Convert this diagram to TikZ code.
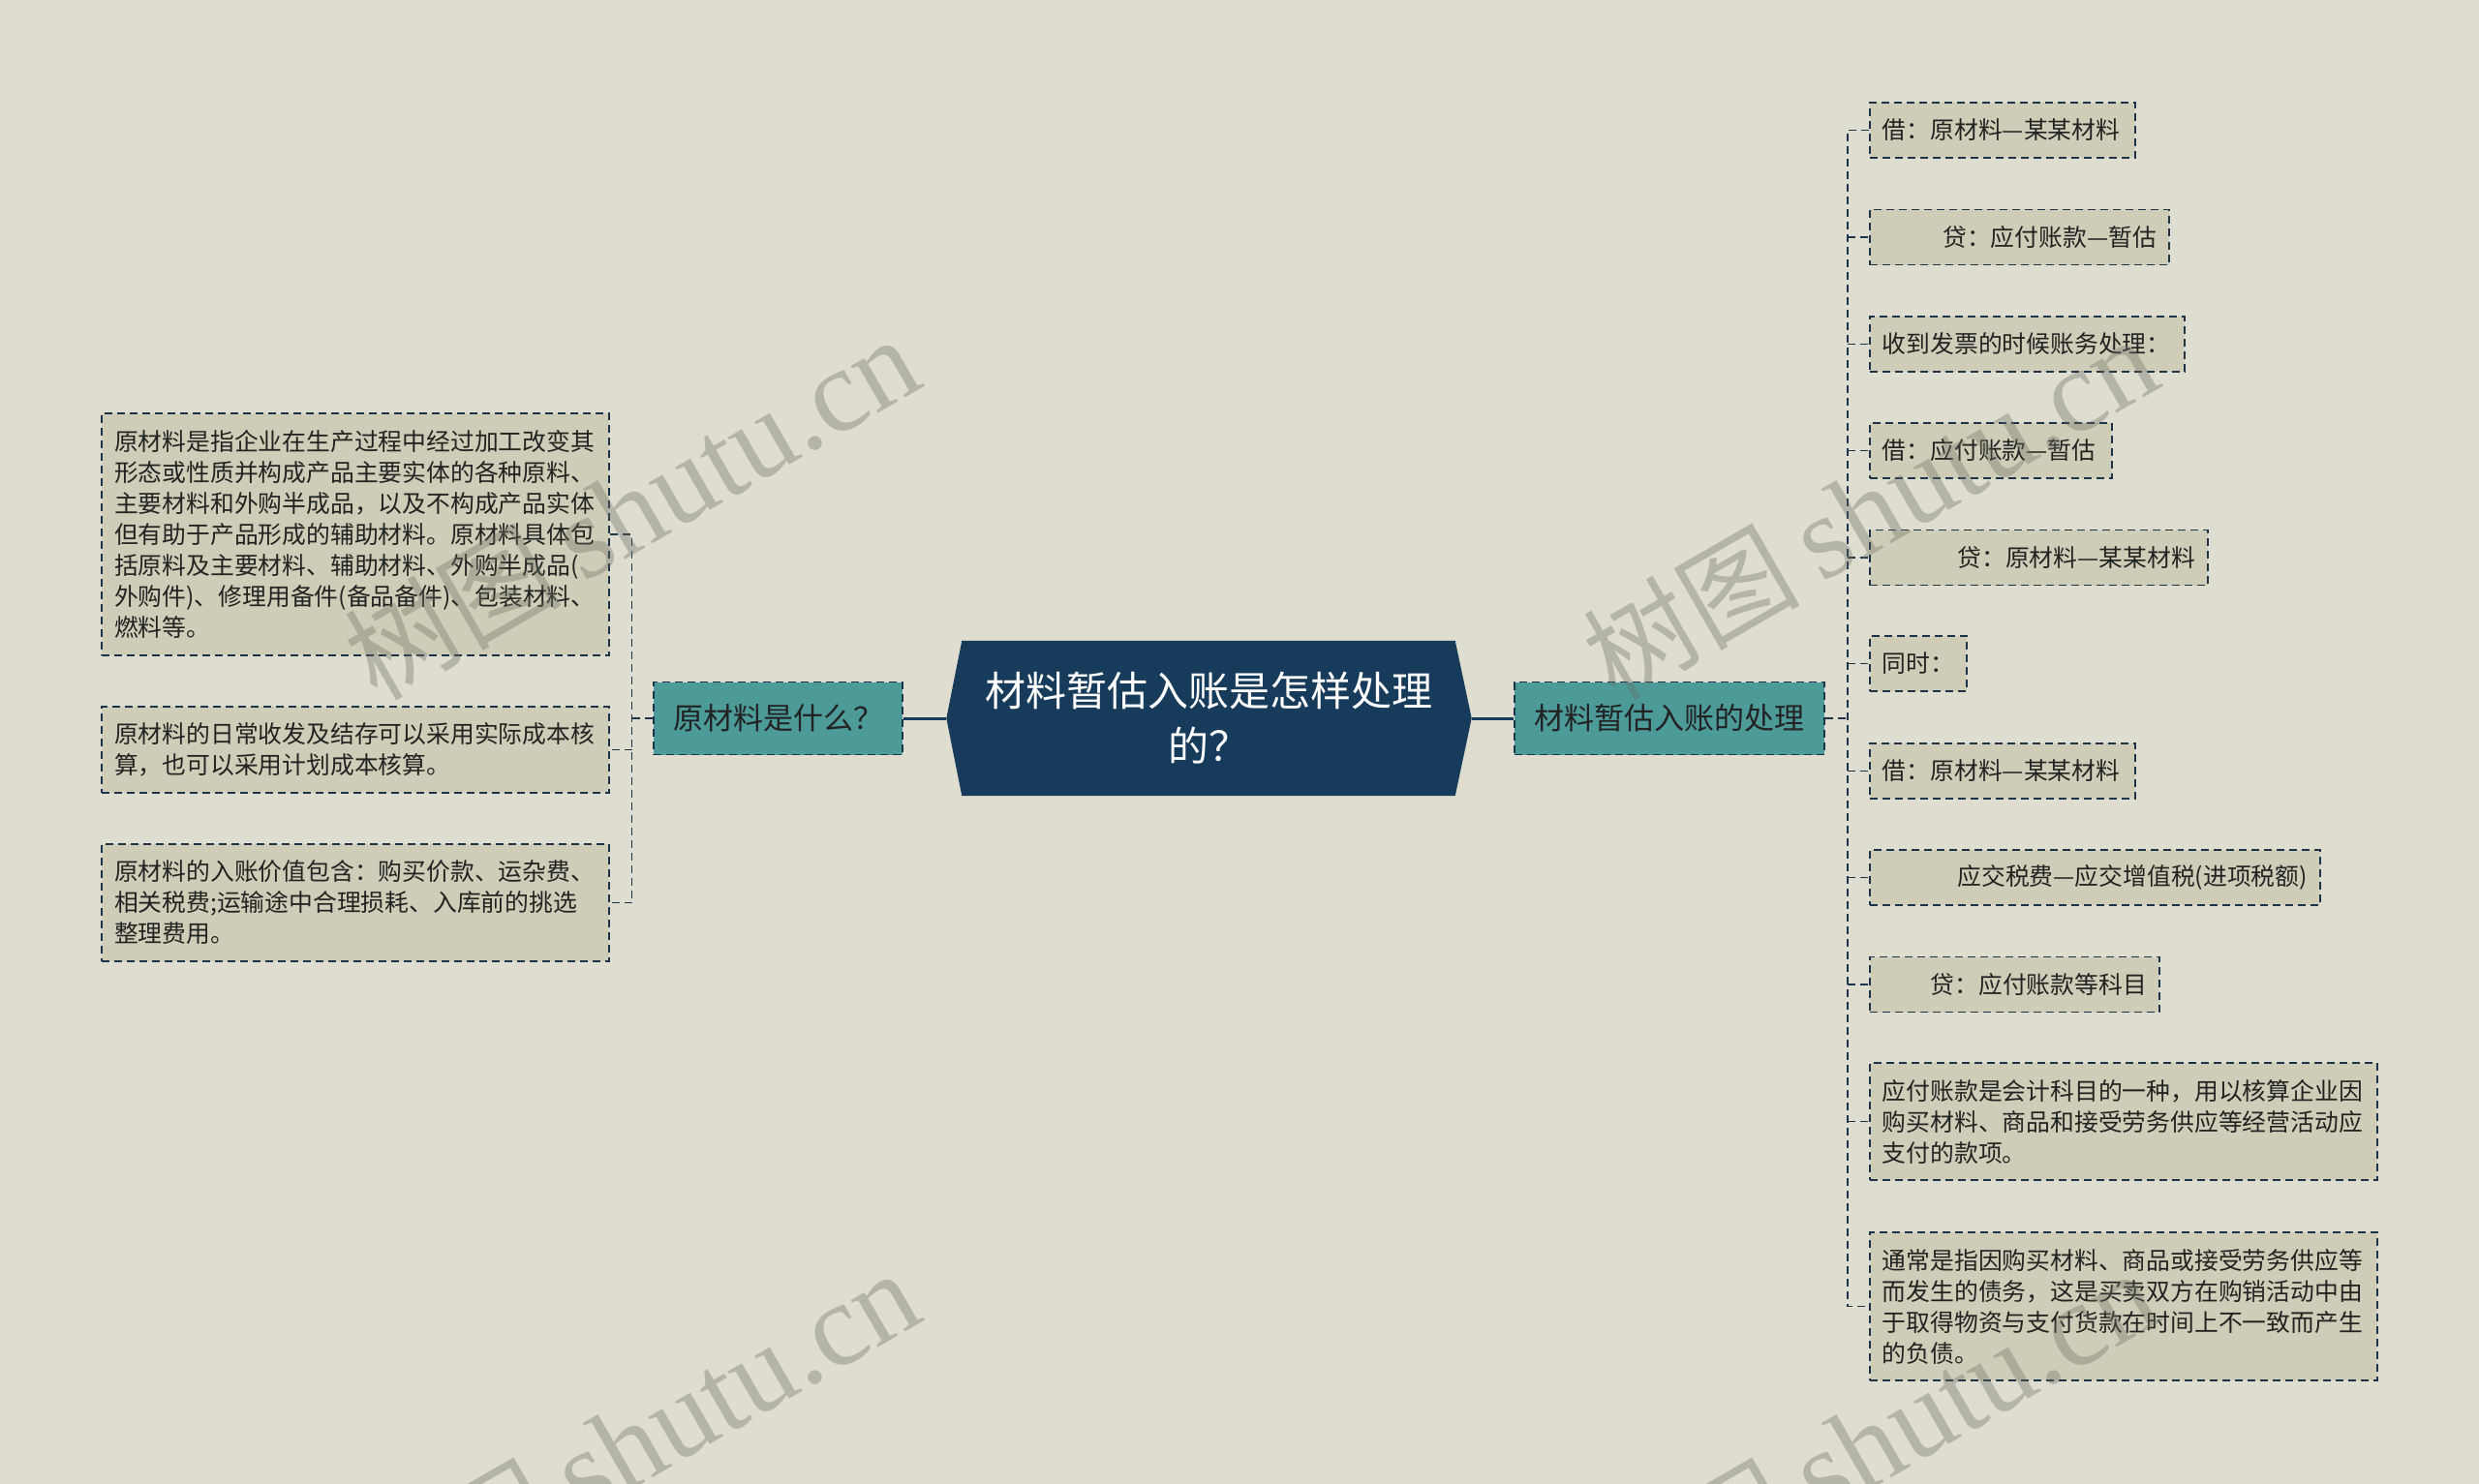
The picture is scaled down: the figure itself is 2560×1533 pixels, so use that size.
\documentclass[tikz,border=0pt]{standalone}
\usepackage{fontspec}
\setmainfont{Noto Sans CJK SC}
\newfontfamily\wmlatin{Liberation Serif}
\newfontfamily\wmcjk{Noto Sans CJK SC}
\definecolor{bgcol}{RGB}{222,221,207}
\definecolor{childfill}{RGB}{207,205,184}
\definecolor{tealcol}{RGB}{76,155,153}
\definecolor{navy}{RGB}{23,59,90}
\definecolor{bordercol}{RGB}{27,52,74}
\definecolor{textcol}{RGB}{34,34,34}
\definecolor{wmcol}{RGB}{110,110,100}
\pgfdeclarelayer{bgl}
\pgfdeclarelayer{midl}
\pgfsetlayers{bgl,midl,main}
\begin{document}
\begin{tikzpicture}[x=1pt,y=-1pt,
  cbox/.style={draw=bordercol, fill=childfill, line width=1.8pt, dash pattern=on 8pt off 5pt,
    inner xsep=13pt, inner ysep=0pt, text=textcol, font=\fontsize{24.8pt}{32pt}\selectfont,
    minimum height=57pt},
  l1box/.style={cbox, fill=tealcol, font=\fontsize{31pt}{38pt}\selectfont, inner xsep=20pt,
    minimum height=75pt},
  rootnode/.style={inner sep=0pt, minimum width=509pt, minimum height=160pt, align=center,
    text=white, font=\fontsize{42pt}{57pt}\selectfont},
  conn/.style={draw=bordercol, line width=1.8pt, dash pattern=on 8pt off 5pt},
  rootline/.style={draw=navy, line width=3pt},
  wm/.style={text=wmcol, opacity=0.36, inner sep=0pt, rotate=30}
]
\begin{pgfonlayer}{bgl}
\fill[bgcol] (0,0) rectangle (2560,1533);
\end{pgfonlayer}
\useasboundingbox (0,0) rectangle (2560,1533);

% root
\node[rootnode] (root) at (1248,742) {材料暂估入账是怎样处理\\的？};
\coordinate (rootL) at ([xshift=-16pt]root.west);
\coordinate (rootR) at ([xshift=17pt]root.east);
\begin{pgfonlayer}{midl}
\fill[navy] (root.north west) -- (root.north east) -- (rootR) -- (root.south east)
  -- (root.south west) -- (rootL) -- cycle;
\end{pgfonlayer}

% level 1
\node[l1box, text width=217pt, align=left] (lp) at (803.5,742) {原材料是什么？};
\node[l1box, text width=280pt, align=left] (rp) at (1724,742) {材料暂估入账的处理};

% left children
\node[cbox, anchor=east, text width=498pt, align=left, minimum height=250pt] (L1) at (630,552) {原材料是指企业在生产过程中经过加工改变其\\形态或性质并构成产品主要实体的各种原料、\\主要材料和外购半成品，以及不构成产品实体\\但有助于产品形成的辅助材料。原材料具体包\\括原料及主要材料、辅助材料、外购半成品(\\外购件)、修理用备件(备品备件)、包装材料、\\燃料等。};
\node[cbox, anchor=east, text width=498pt, align=left, minimum height=89pt] (L2) at (630,774.5) {原材料的日常收发及结存可以采用实际成本核\\算，也可以采用计划成本核算。};
\node[cbox, anchor=east, text width=498pt, align=left, minimum height=121pt] (L3) at (630,932.5) {原材料的入账价值包含：购买价款、运杂费、\\相关税费;运输途中合理损耗、入库前的挑选\\整理费用。};

% right children
\node[cbox, anchor=west, text width=248pt, align=left] (r1) at (1930,134.5) {\mbox{借：原材料—某某材料}};
\node[cbox, anchor=west, text width=283pt, align=right] (r2) at (1930,245) {\mbox{贷：应付账款—暂估}};
\node[cbox, anchor=west, text width=299pt, align=left] (r3) at (1930,355.5) {收到发票的时候账务处理：};
\node[cbox, anchor=west, text width=224pt, align=left] (r4) at (1930,465.5) {\mbox{借：应付账款—暂估}};
\node[cbox, anchor=west, text width=323pt, align=right] (r5) at (1930,576) {\mbox{贷：原材料—某某材料}};
\node[cbox, anchor=west, text width=74pt, align=left] (r6) at (1930,685.5) {同时：};
\node[cbox, anchor=west, text width=248pt, align=left] (r7) at (1930,796.5) {\mbox{借：原材料—某某材料}};
\node[cbox, anchor=west, text width=439pt, align=right] (r8) at (1930,906.5) {\mbox{应交税费—应交增值税(进项税额)}};
\node[cbox, anchor=west, text width=273pt, align=right] (r9) at (1930,1017) {贷：应付账款等科目};
\node[cbox, anchor=west, text width=498pt, align=left, minimum height=121pt] (r10) at (1930,1158.5) {应付账款是会计科目的一种，用以核算企业因\\购买材料、商品和接受劳务供应等经营活动应\\支付的款项。};
\node[cbox, anchor=west, text width=498pt, align=left, minimum height=153pt] (r11) at (1930,1349.5) {通常是指因购买材料、商品或接受劳务供应等\\而发生的债务，这是买卖双方在购销活动中由\\于取得物资与支付货款在时间上不一致而产生\\的负债。};

% trunks
\coordinate (tR) at (1907.6,742);
\coordinate (tL) at (652.5,742);

% connectors
\draw[rootline] (lp.east) -- (rootL);
\draw[rootline] (rootR) -- (rp.west);
\draw[conn] (rp.east) -- (tR);
\draw[conn] (r1.west) -| (tR) |- (r11.west);
\foreach \n in {r2,r3,r4,r5,r6,r7,r8,r9,r10}
  \draw[conn] (tR |- \n.west) -- (\n.west);
\draw[conn] (lp.west) -- (tL);
\draw[conn] (L1.east) -| (tL) |- (L3.east);
\draw[conn] (tL |- L2.east) -- (L2.east);

% watermarks
\node[wm] (wm1) at (652,525) {{\wmcjk\fontsize{112pt}{112pt}\selectfont 树图}\hspace{22pt}{\wmlatin\fontsize{122pt}{122pt}\selectfont shutu.cn}};
\node[wm] (wm2) at (1931,525) {{\wmcjk\fontsize{112pt}{112pt}\selectfont 树图}\hspace{22pt}{\wmlatin\fontsize{122pt}{122pt}\selectfont shutu.cn}};
\node[wm] (wm3) at (652,1490) {{\wmcjk\fontsize{112pt}{112pt}\selectfont 树图}\hspace{22pt}{\wmlatin\fontsize{122pt}{122pt}\selectfont shutu.cn}};
\node[wm] (wm4) at (1931,1490) {{\wmcjk\fontsize{112pt}{112pt}\selectfont 树图}\hspace{22pt}{\wmlatin\fontsize{122pt}{122pt}\selectfont shutu.cn}};
\end{tikzpicture}
\end{document}
